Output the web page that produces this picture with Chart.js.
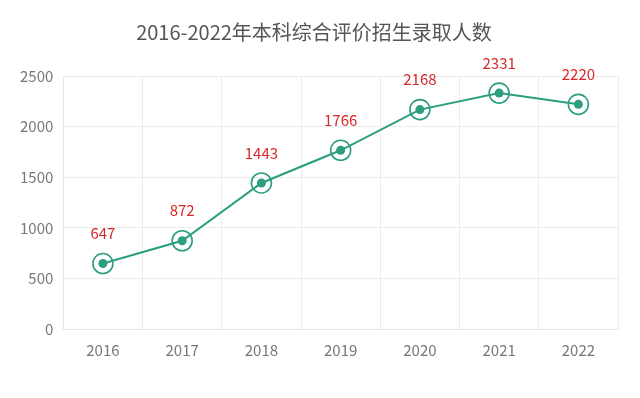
<!DOCTYPE html>
<html>
<head>
<meta charset="utf-8">
<script src="https://cdn.jsdelivr.net/npm/chart.js@4"></script>
<style>
  html, body { margin: 0; padding: 0; background: #fff; }
  #wrap { width: 640px; height: 398px; }
</style>
</head>
<body>
<div id="wrap"><canvas id="chart" width="640" height="398"></canvas></div>
<script>
// données
const years = ['2016', '2017', '2018', '2019', '2020', '2021', '2022'];
const admitted = [647, 872, 1443, 1766, 2168, 2331, 2220];
const yTicks = [0, 500, 1000, 1500, 2000, 2500];

const green = '#2b9e80';

// étiquettes rouges au-dessus des points
const valueLabels = {
  id: 'valueLabels',
  afterDatasetsDraw(chart) {
    const ctx = chart.ctx;
    const meta = chart.getDatasetMeta(0);
    ctx.save();
    ctx.fillStyle = '#d7282a';
    ctx.font = '15px "Noto Sans CJK SC", "Noto Sans", sans-serif';
    ctx.textAlign = 'center';
    ctx.textBaseline = 'middle';
    meta.data.forEach((pt, i) => {
      ctx.fillText(admitted[i], pt.x, pt.y - 30);
    });
    ctx.restore();
  }
};

new Chart(document.getElementById('chart'), {
  type: 'line',
  data: {
    labels: years,
    datasets: [
      {
        data: admitted,
        borderColor: green,
        backgroundColor: green,
        borderWidth: 2,
        pointRadius: 4.5,
        pointBackgroundColor: green,
        pointBorderWidth: 0,
        tension: 0
      },
      {
        data: admitted,
        showLine: false,
        pointRadius: 10,
        pointBorderWidth: 1.6,
        pointBorderColor: green,
        pointBackgroundColor: 'rgba(0,0,0,0)'
      }
    ]
  },
  options: {
    responsive: false,
    animation: false,
    layout: { padding: { left: 10, right: 22, top: 10, bottom: 27 } },
    plugins: {
      legend: { display: false },
      tooltip: { enabled: false },
      title: {
        display: true,
        text: '2016-2022年本科综合评价招生录取人数',
        color: '#555',
        font: { family: '"Noto Sans CJK SC", sans-serif', size: 20, weight: 'normal' },
        padding: { top: 10, bottom: 32 }
      }
    },
    scales: {
      x: {
        offset: true,
        grid: { offset: true, color: '#ececec', drawTicks: false },
        border: { color: '#e6e6e6' },
        ticks: {
          color: '#777',
          padding: 12,
          font: { family: '"Noto Sans CJK SC", sans-serif', size: 15 }
        }
      },
      y: {
        min: 0,
        max: 2500,
        afterBuildTicks(axis) { axis.ticks = yTicks.map(v => ({ value: v })); },
        grid: { color: '#ececec', drawTicks: false },
        border: { color: '#e6e6e6' },
        ticks: {
          color: '#777',
          padding: 10,
          callback: v => String(v),
          font: { family: '"Noto Sans CJK SC", sans-serif', size: 15 }
        }
      }
    }
  },
  plugins: [valueLabels]
});
</script>
</body>
</html>
